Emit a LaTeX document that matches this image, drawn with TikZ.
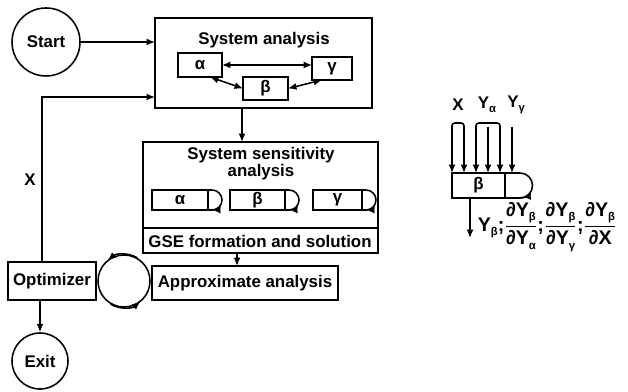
\documentclass[tikz,border=0pt]{standalone}
\usepackage{amsmath}
\usepackage{fontspec}
\setmainfont{Liberation Sans}
\usetikzlibrary{arrows.meta, positioning, calc}

\newcommand{\sbs}[1]{\raisebox{-0.45ex}{\footnotesize #1}}
\newcommand{\pfrac}[2]{$\dfrac{\mbox{#1}}{\mbox{#2}}$}

\begin{document}
\begin{tikzpicture}[
    x=0.025cm, y=0.025cm, line width=1.1pt,
    font=\fontsize{12}{14}\selectfont\bfseries,
    blk/.style={draw, rectangle, inner sep=0pt, outer sep=0pt, align=center},
    term/.style={draw, circle, inner sep=0pt},
    >={Latex[length=6pt,width=5pt]}
]
\useasboundingbox (0,0) rectangle (628,392);

% Terminals
\node[term, minimum size=1.7cm] (start) at (46,350) {Start};
\node[term, minimum size=1.4cm] (exit) at (40,31) {Exit};

% System analysis
\node[blk, minimum width=5.425cm, minimum height=2.25cm] (sysbox) at (263.5,329) {};
\node (systtl) at (264,352) {System analysis};
\node[blk, minimum width=1.1cm, minimum height=0.6cm] (a1) at (200,327) {α};
\node[blk, minimum width=1.125cm, minimum height=0.575cm] (b1) at (265.5,303.5) {β};
\node[blk, minimum width=1.0cm, minimum height=0.575cm] (c1) at (332,323.5) {γ};

% System sensitivity analysis
\node[blk, minimum width=5.875cm, minimum height=2.775cm] (sens) at (260.5,194.5) {};
\node[align=center, font=\fontsize{12}{11}\selectfont\bfseries] (sensttl) at (261,228) {System sensitivity\\analysis};
\node[blk, minimum width=1.4cm, minimum height=0.5cm] (a2) at (180,192) {α};
\node[blk, minimum width=1.375cm, minimum height=0.5cm] (b2) at (257.5,192) {β};
\node[blk, minimum width=1.225cm, minimum height=0.5cm] (c2) at (337.5,192) {γ};
\coordinate (gse) at (0,164);
\node (gsettl) at (260,151) {GSE formation and solution};

% Approximation and optimizer
\node[blk, minimum width=4.65cm, minimum height=0.85cm] (approx) at (245,109) {Approximate analysis};
\node[blk, minimum width=2.2cm, minimum height=0.95cm] (optim) at (52,111) {Optimizer};
\node[term, minimum size=1.3cm] (cyc) at (124,111) {};
\coordinate (fb) at (42,295);
\node (xlbl) at (30,212) {X};

% Detail of one subsystem
\node[blk, minimum width=1.325cm, minimum height=0.625cm] (bb) at (478.5,206.5) {β};
\node (lx) at (458,287) {X};
\node (lya) at (487,287) {Y\sbs{α}};
\node (lyg) at (516,287) {Y\sbs{γ}};
\coordinate (outend) at (470,154);
\node[anchor=west, inner sep=0pt, font=\fontsize{14}{16}\selectfont\bfseries] (outlbl) at (477,165) {Y\sbs{β};\pfrac{∂Y\sbs{β}}{∂Y\sbs{α}};\pfrac{∂Y\sbs{β}}{∂Y\sbs{γ}};\pfrac{∂Y\sbs{β}}{∂X}};

% Main flow
\draw[->] (start) -- (sysbox.west |- start);
\draw[<->] (a1.east) -- (a1.east -| c1.west);
\draw[<->] ($(a1.south east)+(-12,0)$) -- (b1.west);
\draw[<->] (b1.east) -- ($(c1.south west)+(10,0)$);
\draw[->] (242,0 |- sysbox.south) -- (242,0 |- sens.north);
\draw (sens.west |- gse) -- (sens.east |- gse);
\draw[->] (237,0 |- sens.south) -- (237,0 |- approx.north);
\draw[->] (optim.north -| fb) -- (fb) -- (sysbox.west |- fb);
\draw[->] (optim.south -| exit) -- (exit);

% Iteration loop
\draw[->] (cyc.60) arc[start angle=60, end angle=130, radius=0.65cm];
\draw[->] (cyc.-120) arc[start angle=-120, end angle=-50, radius=0.65cm];

% Derivative loops
\foreach \b in {a2,b2,c2} {
  \draw (\b.north east) -- ++(4,0) arc[start angle=90, end angle=-90, radius=10] -- (\b.south east);
  \draw[->] ($(\b.south east)+(4,0)$) arc[start angle=-90, end angle=-25, radius=10];
}
\draw (bb.north east) -- ++(15,0) arc[start angle=90, end angle=-90, radius=12.5] -- (bb.south east);
\draw[->] ($(bb.south east)+(15,0)$) arc[start angle=-90, end angle=-25, radius=12.5];

% Inputs and output
\foreach \i in {0,...,5} {
  \coordinate (in\i) at (452+12*\i,265);
  \draw[->] (in\i) -- (in\i |- bb.north);
}
\draw[rounded corners=2pt] (in0) -- ++(0,4) -| (in1);
\draw[rounded corners=2pt] (in2) -- ++(0,4) -| (in4);
\draw[->] (470,0 |- bb.south) -- (outend);
\end{tikzpicture}
\end{document}
